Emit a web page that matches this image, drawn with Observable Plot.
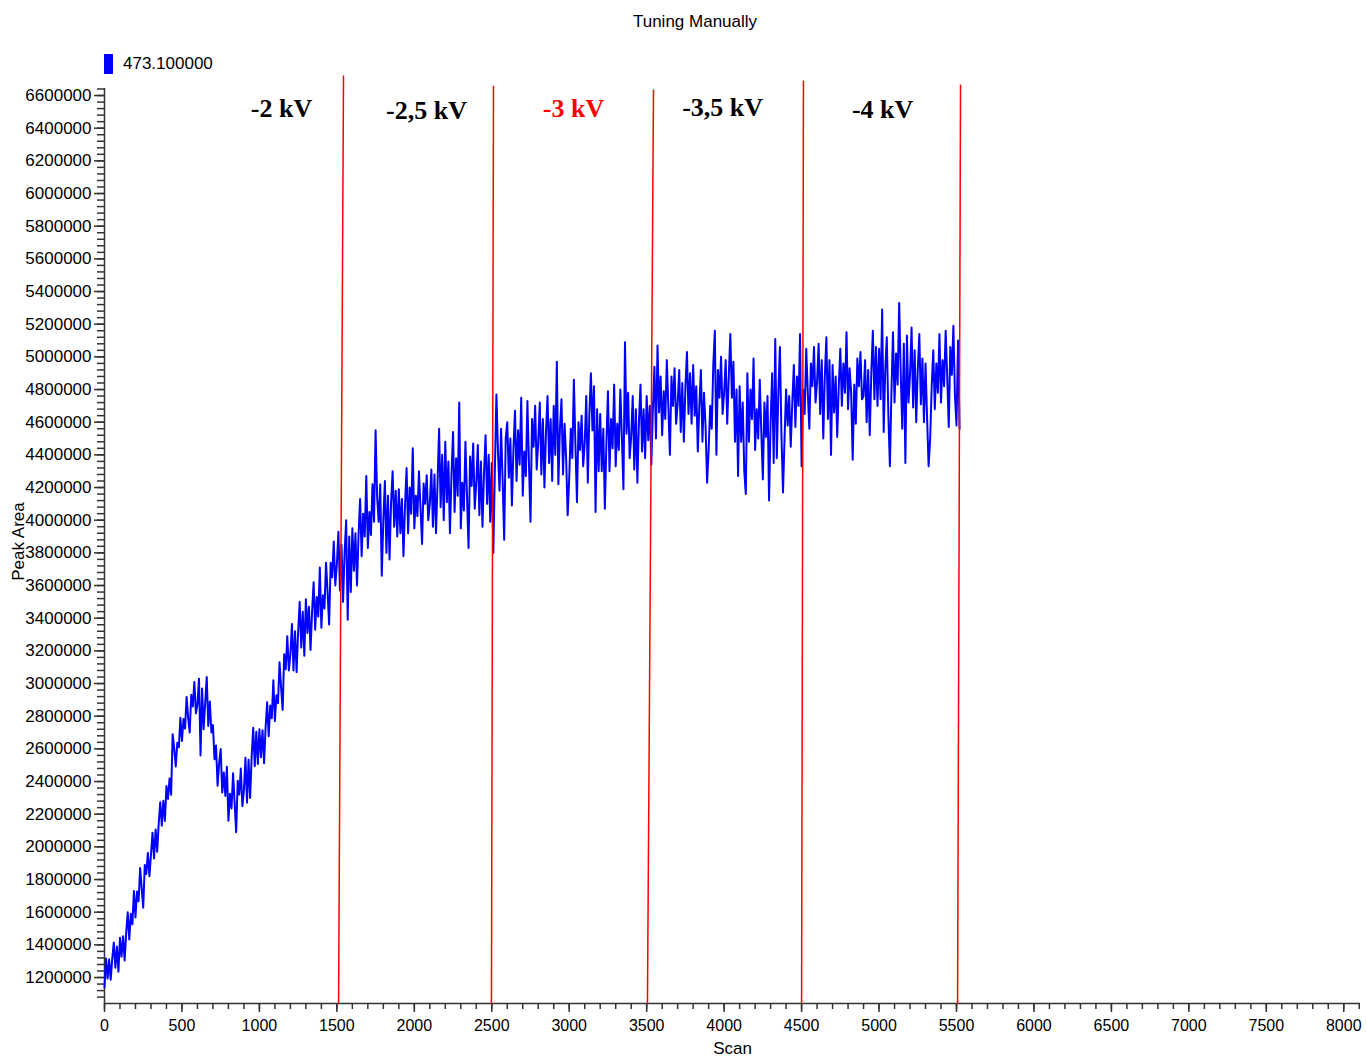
<!DOCTYPE html>
<html><head><meta charset="utf-8">
<script src="https://cdn.jsdelivr.net/npm/d3@7"></script>
<script src="https://cdn.jsdelivr.net/npm/@observablehq/plot@0.6"></script>
<style>
body{margin:0;background:#fff;font-family:"Liberation Sans",Arial,sans-serif;color:#000;}
#wrap{position:relative;width:1367px;height:1059px;overflow:hidden;}
#title{position:absolute;top:12px;left:0;width:1390px;text-align:center;font-size:17px;line-height:20px;}
#legend{position:absolute;top:53px;left:104px;height:21px;display:flex;align-items:center;font-size:17px;}
#legend .sw{width:9px;height:20px;background:#0000ff;margin-right:10px;}
#chart{position:absolute;top:75px;left:0;}
</style></head>
<body>
<div id="wrap">
  <div id="title">Tuning Manually</div>
  <div id="legend"><span class="sw"></span><span id="legendText"></span></div>
  <div id="chart"></div>
</div>
<script>
// ---- data ----
const seriesName = "473.100000";
const scanStep = 10;
const peakArea = [
1140000,1316000,1194000,1312000,1187000,1314000,1414000,1260000,1390000,1236000,
1444000,1328000,1452000,1304000,1472000,1599000,1433000,1590000,1526000,1730000,
1568000,1727000,1667000,1870000,1747000,1628000,1889000,1834000,1963000,1820000,
1950000,2087000,1929000,2107000,1970000,2145000,2273000,2130000,2283000,2159000,
2372000,2294000,2419000,2319000,2690000,2603000,2492000,2638000,2610000,2790000,
2648000,2783000,2724000,2918000,2789000,2700000,2931000,2860000,3010000,2817000,
2875000,3030000,2560000,2970000,2720000,2880000,3040000,2740000,2890000,2700000,
2746000,2536000,2621000,2374000,2513000,2599000,2333000,2456000,2312000,2490000,
2160000,2325000,2235000,2450000,2270000,2090000,2405000,2320000,2480000,2250000,
2345000,2545000,2271000,2534000,2300000,2551000,2729000,2494000,2705000,2507000,
2720000,2549000,2714000,2512000,2730000,2885000,2677000,2865000,2788000,3020000,
2770000,2928000,2880000,3130000,2975000,2839000,3180000,3087000,3290000,3080000,
3180000,3365000,3080000,3320000,3070000,3315000,3500000,3220000,3440000,3170000,
3516000,3310000,3470000,3205000,3440000,3620000,3330000,3530000,3410000,3710000,
3342000,3540000,3460000,3740000,3560000,3361000,3740000,3650000,3870000,3600000,
3730000,3930000,3570000,3850000,3500000,3800000,4000000,3390000,3900000,3560000,
3950000,3690000,3920000,3600000,3910000,4130000,3780000,4040000,3900000,4270000,
3830000,4050000,3910000,4220000,3990000,4550000,4140000,3990000,4220000,3660000,
4000000,4240000,3800000,4150000,3760000,4110000,4300000,3960000,4180000,3900000,
4190000,3920000,4130000,3780000,4090000,4320000,3920000,4200000,4040000,4440000,
3950000,4150000,4025000,4300000,4075000,3855000,4225000,4100000,4275000,4000000,
4100000,4310000,3960000,4280000,3920000,4230000,4560000,4080000,4400000,4000000,
4480000,4110000,4360000,3920000,4280000,4540000,4050000,4380000,4150000,4720000,
3950000,4230000,4060000,4480000,4150000,3830000,4390000,4210000,4470000,4070000,
4230000,4460000,4030000,4360000,3960000,4290000,4520000,4100000,4400000,3990000,
4350000,3800000,4300000,4770000,4420000,4180000,4560000,4250000,3880000,4500000,
4600000,4260000,4500000,4090000,4440000,4670000,4240000,4550000,4340000,4750000,
4150000,4420000,4270000,4730000,4350000,3990000,4620000,4450000,4700000,4310000,
4480000,4720000,4280000,4620000,4200000,4540000,4760000,4350000,4620000,4240000,
4700000,4400000,4970000,4220000,4560000,4740000,4280000,4590000,4380000,4030000,
4260000,4560000,4380000,4860000,4460000,4110000,4600000,4430000,4640000,4330000,
4470000,4760000,4230000,4650000,4900000,4550000,4820000,4050000,4680000,4300000,
4650000,4300000,4560000,4070000,4470000,4790000,4300000,4620000,4440000,4830000,
4330000,4590000,4430000,4800000,4500000,4190000,5090000,4530000,4780000,4380000,
4510000,4760000,4310000,4680000,4230000,4600000,4830000,4420000,4680000,4380000,
4760000,4490000,4700000,4340000,4680000,4940000,4500000,5070000,4660000,4880000,
4520000,4790000,4620000,4980000,4690000,4400000,4880000,4700000,4930000,4590000,
4710000,4920000,4540000,4840000,4480000,4810000,5030000,4650000,4900000,4590000,
4950000,4640000,4820000,4420000,4700000,4920000,4480000,4780000,4580000,4230000,
4430000,4700000,4560000,4950000,5160000,4400000,4920000,4750000,5000000,4650000,
4780000,4980000,4590000,4880000,5140000,4750000,4970000,4480000,4800000,4270000,
4820000,4480000,4720000,4300000,4160000,4900000,4480000,4800000,4620000,4990000,
4430000,4680000,4500000,4860000,4540000,4250000,4720000,4510000,4760000,4120000,
4600000,4900000,4350000,5110000,4380000,4780000,5060000,4520000,4170000,4500000,
4800000,4580000,4760000,4450000,4720000,4950000,4570000,4880000,4700000,5140000,
4330000,4800000,4650000,5050000,4780000,4560000,4960000,4820000,5060000,4720000,
4850000,5080000,4650000,4980000,4500000,4880000,5120000,4620000,4980000,4400000,
4950000,4660000,4880000,4510000,4820000,5050000,4700000,4960000,4780000,5150000,
4680000,4930000,4780000,4370000,4830000,4590000,4990000,4820000,5030000,4740000,
4760000,4980000,4600000,4920000,4520000,4900000,5160000,4740000,5060000,4700000,
5050000,4740000,5290000,4540000,4920000,5120000,4650000,4330000,4780000,5150000,
4720000,5020000,4830000,5330000,4900000,4560000,5080000,4350000,5130000,4720000,
4890000,5180000,4690000,5040000,4600000,4920000,5140000,4710000,4990000,4600000,
4960000,4630000,4330000,4500000,4820000,5040000,4680000,4960000,4780000,5140000,
4720000,4980000,4820000,5160000,4880000,4570000,5060000,4890000,5190000,4760000,
4580000,5100000,4560000
];

// voltage boundary lines (slightly slanted in the reference)
const boundaryTopScan    = [1543, 2511, 3544, 4512, 5526];
const boundaryBottomScan = [1511, 2498, 3505, 4500, 5507];
const boundaryTopArea    = [6722000, 6660000, 6637000, 6692000, 6667000];
const boundaryBottomArea = [1041000, 1041000, 1041000, 1041000, 1041000];

// voltage annotations
const voltageLabels = ["-2 kV", "-2,5 kV", "-3 kV", "-3,5 kV", "-4 kV"];
const voltageScan   = [1143, 2079, 3028, 3990, 5023];
const voltageArea   = [6520000, 6508000, 6520000, 6526000, 6514000];
const highlighted   = "-3 kV";

const xTicks = [0,500,1000,1500,2000,2500,3000,3500,4000,4500,5000,5500,6000,6500,7000,7500,8000];
const yTicks = [1200000,1400000,1600000,1800000,2000000,2200000,2400000,2600000,2800000,3000000,
  3200000,3400000,3600000,3800000,4000000,4200000,4400000,4600000,4800000,5000000,5200000,
  5400000,5600000,5800000,6000000,6200000,6400000,6600000];
const xMinor = d3.range(0, 8101, 100);
const yMinor = d3.range(1080000, 6640001, 40000);

// ---- build ----
document.getElementById("legendText").textContent = seriesName;
const series = peakArea.map((v, i) => ({scan: i * scanStep, area: v}));
const bounds = boundaryTopScan.map((s, i) => ({x1: boundaryBottomScan[i], y1: boundaryBottomArea[i], x2: s, y2: boundaryTopArea[i]}));
const labels = voltageLabels.map((t, i) => ({text: t, scan: voltageScan[i], area: voltageArea[i]}));
const fmt = d3.format("d");
const axisColor = "#333";

const chart = Plot.plot({
  width: 1367, height: 984,
  marginTop: 13, marginBottom: 56, marginLeft: 104, marginRight: 7,
  x: {domain: [0, 8108]},
  y: {domain: [1041000, 6643000]},
  style: {fontFamily: "'Liberation Sans', Arial, sans-serif", fontSize: "16px", color: "#000", background: "#fff", overflow: "visible"},
  marks: [
    Plot.axisY({ticks: yMinor, tickSize: 7, tickFormat: () => "", label: null, stroke: axisColor, strokeWidth: 1.5}),
    Plot.axisY({ticks: yTicks, tickSize: 10, tickPadding: 3, tickFormat: fmt, label: null, stroke: axisColor, strokeWidth: 1.5, fill: "#000", fontSize: 17}),
    Plot.axisX({ticks: xMinor, tickSize: 6, tickFormat: () => "", label: null, stroke: axisColor, strokeWidth: 1.5}),
    Plot.axisX({ticks: xTicks, tickSize: 9, tickPadding: 7, tickFormat: fmt, label: null, stroke: axisColor, strokeWidth: 1.5, fill: "#000", fontSize: 16}),
    Plot.ruleX([0], {stroke: axisColor, strokeWidth: 1.5}),
    Plot.ruleY([1041000], {stroke: axisColor, strokeWidth: 1.5}),
    Plot.line(series, {x: "scan", y: "area", stroke: "#0000ff", strokeWidth: 2}),
    Plot.link(bounds, {x1: "x1", y1: "y1", x2: "x2", y2: "y2", stroke: "#ff0000", strokeWidth: 1.5}),
    Plot.text(labels, {x: "scan", y: "area", text: "text", fontFamily: "'Liberation Serif', 'Times New Roman', serif",
      fontWeight: "bold", fontSize: 26, fill: d => d.text === highlighted ? "#ff0000" : "#000"}),
    Plot.text(["Peak Area"], {frameAnchor: "left", textAnchor: "middle", dx: -86, dy: -4.5, rotate: -90, fontSize: 17, fill: "#000"}),
    Plot.text(["Scan"], {frameAnchor: "bottom", dy: 50, fontSize: 17, fill: "#000"})
  ]
});
document.getElementById("chart").appendChild(chart);
</script>
</body></html>
